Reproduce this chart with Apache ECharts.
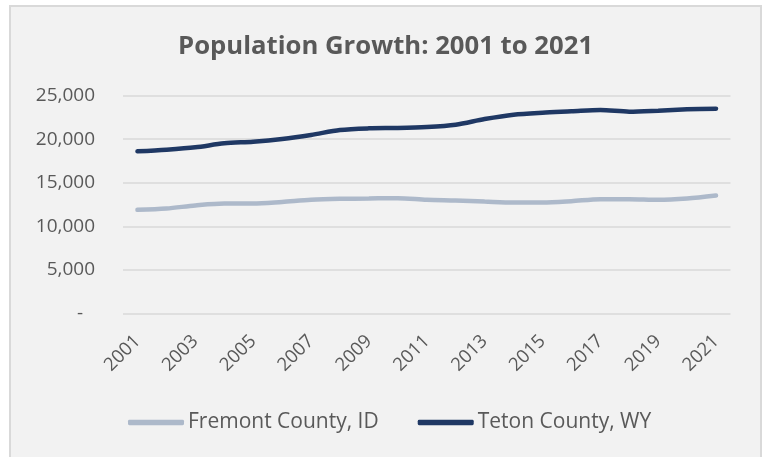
<!DOCTYPE html>
<html><head><meta charset="utf-8">
<script src="https://cdn.jsdelivr.net/npm/echarts@6/dist/echarts.min.js"></script>
<style>
html,body{margin:0;padding:0;background:#fff;width:762px;height:457px;overflow:hidden;}
#frame{position:absolute;left:9px;top:5px;width:753px;height:470px;border:2px solid #d9d9d9;background:#f2f2f2;box-sizing:border-box;}
#chart{position:absolute;left:0;top:0;width:762px;height:457px;}
</style></head>
<body><div id="frame"></div><div id="chart"></div>
<script>
const years = ['2001','2002','2003','2004','2005','2006','2007','2008','2009','2010','2011','2012','2013','2014','2015','2016','2017','2018','2019','2020','2021'];
const fremont = [11890,12040,12390,12610,12610,12800,13040,13150,13190,13230,13040,12960,12840,12730,12730,12880,13110,13110,13040,13190,13530];
const teton = [18610,18800,19070,19530,19720,20030,20490,21060,21250,21290,21400,21670,22320,22820,23050,23200,23360,23170,23280,23430,23510];
const yTicks = [0,5000,10000,15000,20000,25000];

const chart = echarts.init(document.getElementById('chart'), null, {renderer:'canvas'});
const font = '"Open Sans", sans-serif';
chart.setOption({
  backgroundColor: 'transparent',
  animation: false,
  title: {
    text: 'Population Growth: 2001 to 2021',
    left: 178, top: 34, padding: 0,
    textStyle: {fontFamily: font, fontSize: 25.7, fontWeight: 'bold', color: '#595959'}
  },
  legend: {
    top: 412, left: 128, padding: 0,
    itemWidth: 56, itemHeight: 5.4, itemGap: 39,
    icon: 'roundRect',
    textStyle: {fontFamily: font, fontSize: 21, color: '#595959', padding: [0,0,0,-1]},
    data: ['Fremont County, ID', 'Teton County, WY']
  },
  grid: {left: 123, right: 31.5, top: 95.7, bottom: 143.7, containLabel: false},
  xAxis: {
    type: 'category', data: years, boundaryGap: true,
    axisLine: {show: false}, axisTick: {show: false},
    axisLabel: {interval: 1, rotate: 45, margin: 25, fontFamily: font, fontSize: 18.5, color: '#595959'}
  },
  yAxis: {
    type: 'value', min: yTicks[0], max: yTicks[yTicks.length-1], interval: 5000,
    axisLine: {show: false}, axisTick: {show: false},
    splitLine: {lineStyle: {color: '#d9d9d9', width: 1.5}},
    axisLabel: {
      margin: 28, fontFamily: font, fontSize: 19, color: '#595959',
      formatter: v => v === 0 ? '{d|-}' : v.toLocaleString('en-US'),
      rich: {d: {fontFamily: font, fontSize: 19, color: '#595959', padding: [0,12,0,0]}}
    }
  },
  series: [
    {name: 'Fremont County, ID', type: 'line', data: fremont, smooth: 0.3, symbol: 'none',
     lineStyle: {color: '#adb9ca', width: 4.5, cap: 'round'}, itemStyle: {color: '#adb9ca'}},
    {name: 'Teton County, WY', type: 'line', data: teton, smooth: 0.3, symbol: 'none',
     lineStyle: {color: '#1f3864', width: 4.5, cap: 'round'}, itemStyle: {color: '#1f3864'}}
  ]
});
</script></body></html>
